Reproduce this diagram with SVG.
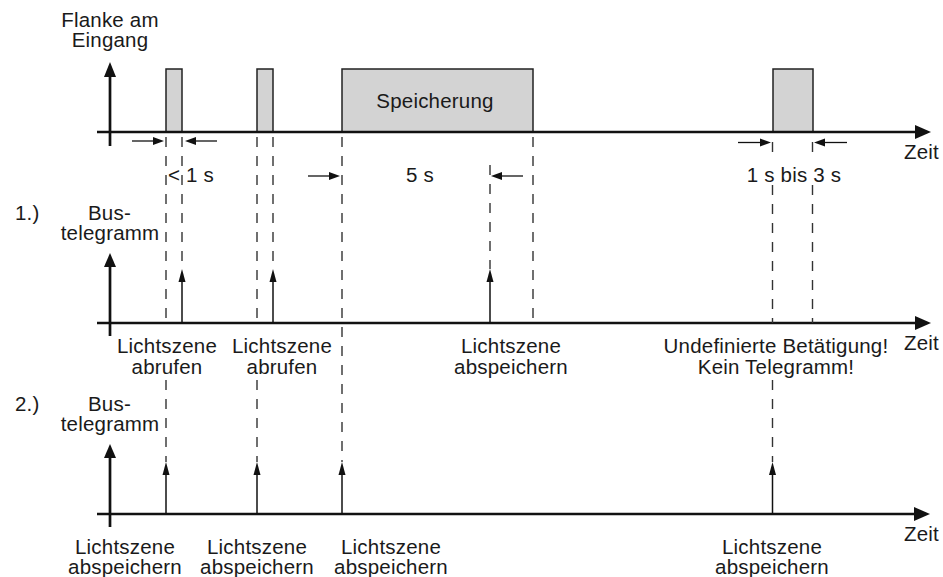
<svg xmlns="http://www.w3.org/2000/svg" width="943" height="577" viewBox="0 0 943 577">
<style>
text{font-family:"Liberation Sans",Arial,Helvetica,sans-serif;font-size:20.5px;letter-spacing:0.2px;fill:#1a1a1a}
.c{text-anchor:middle}
.ax{stroke:#111;stroke-width:2.7;fill:none}
.ah{fill:#111}
.pulse{fill:#d3d3d3;stroke:#222;stroke-width:1.5}
.dash{stroke:#333;stroke-width:1.4;stroke-dasharray:10 9;fill:none}
.sig{stroke:#111;stroke-width:1.5;fill:none}
.dim{stroke:#111;stroke-width:1.3;fill:none}
</style>
<rect width="943" height="577" fill="#fff"/>
<g id="pulses">
<rect id="p1" class="pulse" x="166" y="69" width="16" height="63"/>
<rect id="p2" class="pulse" x="257" y="69" width="16" height="63"/>
<g id="p3"><rect class="pulse" x="342" y="69" width="191" height="63"/><text class="c" x="435" y="108">Speicherung</text></g>
<rect id="p4" class="pulse" x="773" y="69" width="40" height="63"/>
</g>
<g id="axes">
<line class="ax" x1="97" y1="132" x2="917" y2="132"/><polygon class="ah" points="915,125 931,132 915,139"/>
<line class="ax" x1="110" y1="146" x2="110" y2="75"/><polygon class="ah" points="104,77 110,62 116,77"/>
<line class="ax" x1="97" y1="323" x2="917" y2="323"/><polygon class="ah" points="915,316 931,323 915,330"/>
<line class="ax" x1="110" y1="336" x2="110" y2="265"/><polygon class="ah" points="104,267 110,253 116,267"/>
<line class="ax" x1="97" y1="514" x2="916" y2="514"/><polygon class="ah" points="914,507 930,514 914,521"/>
<line class="ax" x1="110" y1="527" x2="110" y2="456"/><polygon class="ah" points="104,458 110,444 116,458"/>
</g>
<g id="connectors">
<g id="dashes">
<line class="dash" x1="166" y1="137" x2="166" y2="323"/><line class="dash" x1="166" y1="380" x2="166" y2="462"/>
<line class="dash" x1="182" y1="137" x2="182" y2="269"/>
<line class="dash" x1="257" y1="137" x2="257" y2="323"/><line class="dash" x1="257" y1="380" x2="257" y2="462"/>
<line class="dash" x1="273" y1="137" x2="273" y2="269"/>
<line class="dash" x1="342" y1="137" x2="342" y2="462"/>
<line class="dash" x1="490" y1="165" x2="490" y2="269"/>
<line class="dash" x1="533" y1="137" x2="533" y2="323"/>
<line class="dash" x1="772.5" y1="142" x2="772.5" y2="152"/><line class="dash" x1="772.5" y1="185" x2="772.5" y2="323"/><line class="dash" x1="772.5" y1="380" x2="772.5" y2="462"/>
<line class="dash" x1="812.5" y1="142" x2="812.5" y2="152"/><line class="dash" x1="812.5" y1="185" x2="812.5" y2="323"/>
</g>
<g id="signals1">
<line class="sig" x1="182" y1="323" x2="182" y2="280"/><polygon class="ah" points="178.5,282 182,269 185.5,282"/>
<line class="sig" x1="273" y1="323" x2="273" y2="280"/><polygon class="ah" points="269.5,282 273,269 276.5,282"/>
<line class="sig" x1="490" y1="323" x2="490" y2="280"/><polygon class="ah" points="486.5,282 490,269 493.5,282"/>
</g>
<g id="signals2">
<line class="sig" x1="166" y1="514" x2="166" y2="473"/><polygon class="ah" points="162.5,475 166,462 169.5,475"/>
<line class="sig" x1="257" y1="514" x2="257" y2="473"/><polygon class="ah" points="253.5,475 257,462 260.5,475"/>
<line class="sig" x1="342" y1="514" x2="342" y2="473"/><polygon class="ah" points="338.5,475 342,462 345.5,475"/>
<line class="sig" x1="772.5" y1="514" x2="772.5" y2="473"/><polygon class="ah" points="769,475 772.5,462 776,475"/>
</g>
<g id="dims">
<line class="dim" x1="132" y1="141" x2="155" y2="141"/><polygon class="ah" points="153,137 164,141 153,145"/>
<line class="dim" x1="217" y1="141" x2="194" y2="141"/><polygon class="ah" points="196,137 185,141 196,145"/>
<line class="dim" x1="308" y1="176" x2="331" y2="176"/><polygon class="ah" points="329,172 340,176 329,180"/>
<line class="dim" x1="523" y1="176" x2="500" y2="176"/><polygon class="ah" points="502,172 491,176 502,180"/>
<line class="dim" x1="738" y1="142.5" x2="762" y2="142.5"/><polygon class="ah" points="760,138.5 771,142.5 760,146.5"/>
<line class="dim" x1="847" y1="142.5" x2="823" y2="142.5"/><polygon class="ah" points="825,138.5 814,142.5 825,146.5"/>
</g>
</g>
<g id="labels">
<text class="c" x="110" y="27">Flanke am</text>
<text class="c" x="110" y="47">Eingang</text>
<text x="168" y="181.5">&lt; 1 s</text>
<text class="c" x="420" y="181.5">5 s</text>
<text class="c" x="794" y="181.5">1 s bis 3 s</text>
<text x="904" y="159">Zeit</text>
<text x="904" y="350">Zeit</text>
<text x="904" y="541">Zeit</text>
<text x="15" y="220">1.)</text>
<text x="88" y="220">Bus-</text>
<text class="c" x="110" y="240">telegramm</text>
<text x="15" y="411">2.)</text>
<text x="88" y="411">Bus-</text>
<text class="c" x="110" y="431">telegramm</text>
</g>
<g id="row1labels">
<text class="c" x="167" y="353">Lichtszene</text><text class="c" x="167" y="374">abrufen</text>
<text class="c" x="282" y="353">Lichtszene</text><text class="c" x="282" y="374">abrufen</text>
<text class="c" x="511" y="353">Lichtszene</text><text class="c" x="511" y="374">abspeichern</text>
<text class="c" x="776" y="353">Undefinierte Betätigung!</text><text class="c" x="776" y="374">Kein Telegramm!</text>
</g>
<g id="row2labels">
<text class="c" x="125" y="554">Lichtszene</text><text class="c" x="125" y="574">abspeichern</text>
<text class="c" x="257" y="554">Lichtszene</text><text class="c" x="257" y="574">abspeichern</text>
<text class="c" x="391" y="554">Lichtszene</text><text class="c" x="391" y="574">abspeichern</text>
<text class="c" x="772" y="554">Lichtszene</text><text class="c" x="772" y="574">abspeichern</text>
</g>
</svg>
